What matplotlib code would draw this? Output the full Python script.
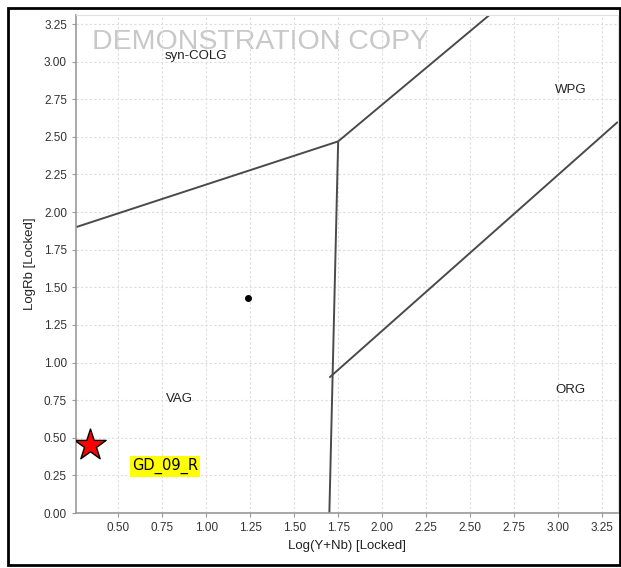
import matplotlib
matplotlib.use("Agg")
import matplotlib.pyplot as plt
from matplotlib.patches import Rectangle

plt.rcParams["font.family"] = ["Liberation Sans", "DejaVu Sans"]

# field boundaries (Pearce et al. style Rb vs Y+Nb)
syn_vag_x = [0.26, 1.75]
syn_vag_y = [1.90, 2.47]
vag_wpg_x = [1.75, 2.61]
vag_wpg_y = [2.47, 3.31]
vag_org_x = [1.75, 1.70]
vag_org_y = [2.47, 0.00]
wpg_org_x = [1.70, 3.34]
wpg_org_y = [0.90, 2.60]

field_names = ["syn-COLG", "WPG", "VAG", "ORG"]
field_x = [0.94, 3.07, 0.85, 3.07]
field_y = [3.04, 2.81, 0.76, 0.82]

sample_x = [1.24]
sample_y = [1.43]
star_x = [0.34]
star_y = [0.45]
sample_label = "GD_09_R"

ticks = [0.00, 0.25, 0.50, 0.75, 1.00, 1.25, 1.50, 1.75, 2.00, 2.25, 2.50, 2.75, 3.00, 3.25]

fig = plt.figure(figsize=(6.21, 5.68), dpi=100)
ax = fig.add_axes([0.1224, 0.0968, 0.8726, 0.8768])
ax.set_xlim(0.26, 3.34)
ax.set_ylim(0.0, 3.31)

line_kw = dict(color="#4a4a4a", lw=1.4, solid_capstyle="butt")
for xs, ys in [(syn_vag_x, syn_vag_y), (vag_wpg_x, vag_wpg_y),
               (vag_org_x, vag_org_y), (wpg_org_x, wpg_org_y)]:
    ax.plot(xs, ys, **line_kw)

for name, x, y in zip(field_names, field_x, field_y):
    ax.text(x, y, name, fontsize=9.5, color="#222222", ha="center", va="center")

ax.text(0.35, 3.13, "DEMONSTRATION COPY", fontsize=20.5, color="#c8c8c8",
        ha="left", va="center", zorder=0)

ax.scatter(sample_x, sample_y, s=16, color="black", marker="o", zorder=3)
ax.scatter(star_x, star_y, s=560, color="red", marker="*", edgecolors="black",
           linewidths=1.0, zorder=4)
ax.text(0.58, 0.31, sample_label, fontsize=10.5, family="DejaVu Sans",
        color="black", ha="left", va="center",
        bbox=dict(facecolor="#ffff00", edgecolor="none", pad=1.5))

ax.set_xticks([t for t in ticks if t >= 0.5])
ax.set_yticks(ticks)
ax.xaxis.set_major_formatter(matplotlib.ticker.FormatStrFormatter("%.2f"))
ax.yaxis.set_major_formatter(matplotlib.ticker.FormatStrFormatter("%.2f"))
ax.tick_params(labelsize=8.5, colors="#333333", length=3, color="#999999")
ax.grid(True, color="#dddddd", linestyle=(0, (2, 2)), linewidth=0.8)
ax.set_axisbelow(True)
for side in ["top", "right"]:
    ax.spines[side].set_color("#e0e0e0")
for side in ["left", "bottom"]:
    ax.spines[side].set_color("#999999")
    ax.spines[side].set_linewidth(1.2)

ax.set_xlabel("Log(Y+Nb) [Locked]", fontsize=9.5, color="#222222", labelpad=4)
ax.set_ylabel("LogRb [Locked]", fontsize=9.5, color="#222222", labelpad=6)

fig.patches.append(Rectangle((8 / 621, 3 / 568), 612 / 621, 557 / 568,
                             transform=fig.transFigure, fill=False,
                             edgecolor="black", linewidth=2))

fig.savefig("out.png", dpi=100)
